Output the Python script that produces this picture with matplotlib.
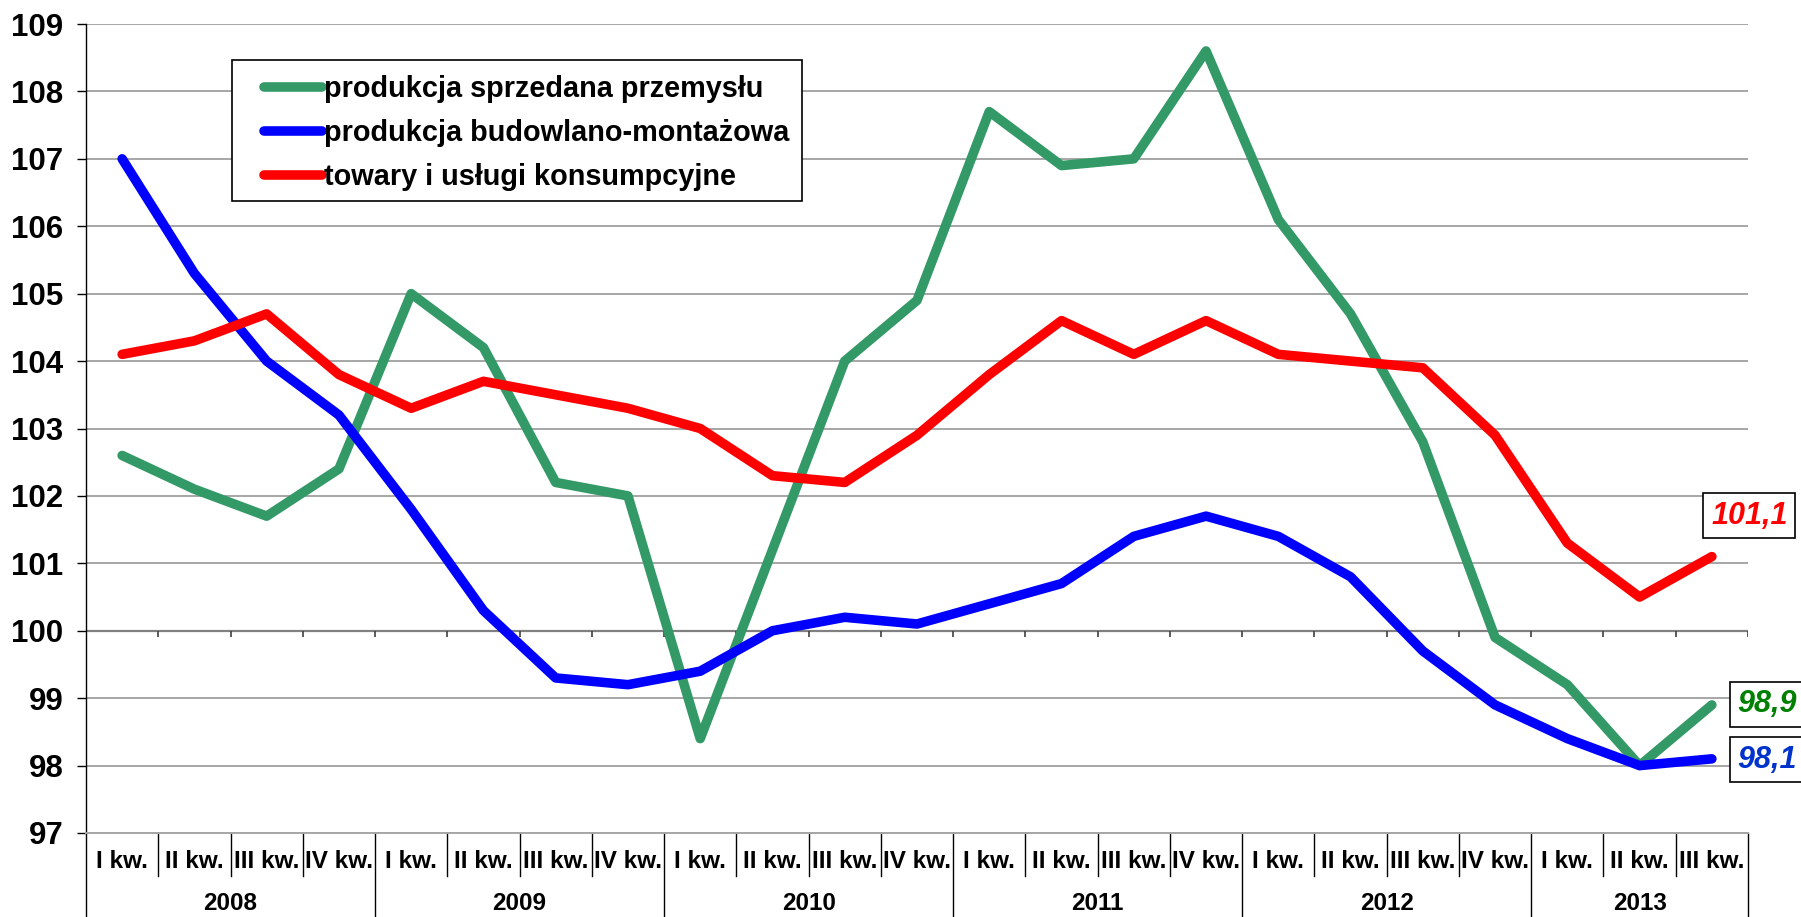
import matplotlib
matplotlib.use('Agg')
import matplotlib.pyplot as plt
import matplotlib.transforms as mtransforms
from matplotlib.patches import Rectangle
from matplotlib import font_manager
import numpy as np

# ---------------- data ----------------
years = ['2008', '2009', '2010', '2011', '2012', '2013']
quarters_in_year = [4, 4, 4, 4, 4, 3]
quarter_names = ['I kw.', 'II kw.', 'III kw.', 'IV kw.']

series_labels = ['produkcja sprzedana przemysłu',
                 'produkcja budowlano-montażowa',
                 'towary i usługi konsumpcyjne']

przemysl = [102.6, 102.1, 101.7, 102.4,
            105.0, 104.2, 102.2, 102.0,
            98.4, 101.2, 104.0, 104.9,
            107.7, 106.9, 107.0, 108.6,
            106.1, 104.7, 102.8, 99.9,
            99.2, 98.0, 98.9]
budowlana = [107.0, 105.3, 104.0, 103.2,
             101.8, 100.3, 99.3, 99.2,
             99.4, 100.0, 100.2, 100.1,
             100.4, 100.7, 101.4, 101.7,
             101.4, 100.8, 99.7, 98.9,
             98.4, 98.0, 98.1]
konsumpcja = [104.1, 104.3, 104.7, 103.8,
              103.3, 103.7, 103.5, 103.3,
              103.0, 102.3, 102.2, 102.9,
              103.8, 104.6, 104.1, 104.6,
              104.1, 104.0, 103.9, 102.9,
              101.3, 100.5, 101.1]

end_labels = ['98,9', '98,1', '101,1']

line_colors = ['#339966', '#0000FF', '#FF0000']
text_colors = ['#008000', '#0033CC', '#FF0000']

# ---------------- fonts ----------------
avail = {f.name for f in font_manager.fontManager.ttflist}
main_font = 'Liberation Sans' if 'Liberation Sans' in avail else 'DejaVu Sans'
plt.rcParams['font.family'] = [main_font, 'DejaVu Sans']

W, H = 1801, 917
fig = plt.figure(figsize=(W / 100, H / 100), dpi=100)
L, R, T, B = 86, 1748, 24, 833
ax = fig.add_axes([L / W, (H - B) / H, (R - L) / W, (B - T) / H])

def ax_x(px):
    return (px - L) / (R - L)

def ax_y(py):
    return (B - py) / (B - T)

n = len(przemysl)
x = np.arange(n) + 0.5
ax.set_xlim(0, n)
ax.set_ylim(97, 109)

# grid
ax.set_yticks(range(97, 110))
ax.yaxis.grid(True, color='#a6a6a6', lw=1.4, zorder=0)
ax.set_axisbelow(True)
ax.set_xticks([])
ax.tick_params(axis='y', direction='out', length=6.3, width=1, color='black', pad=10)
for lab in ax.get_yticklabels():
    lab.set_fontsize(22.5)
    lab.set_fontweight('bold')

for s in ['top', 'right']:
    ax.spines[s].set_visible(False)
ax.spines['bottom'].set_color('#a6a6a6')
ax.spines['bottom'].set_linewidth(1.4)
ax.spines['left'].set_color('black')
ax.spines['left'].set_linewidth(1.0)

# horizontal axis crossing at 100 with boundary ticks
ax.axhline(100, color='#808080', lw=1.6, zorder=1)
bounds = np.arange(0, n + 1)
tick_len = 6 / 67.4
ax.vlines(bounds[1:], 100 - tick_len, 100, color='#404040', lw=1.2, zorder=1)

# series
LW = 6.9
for vals, col, lab in zip([przemysl, budowlana, konsumpcja], line_colors, series_labels):
    ax.plot(x, vals, color=col, lw=LW, solid_capstyle='round',
            solid_joinstyle='round', label=lab, zorder=3)

# legend frame
ax.add_patch(Rectangle((ax_x(232), ax_y(201)), ax_x(802) - ax_x(232), ax_y(60) - ax_y(201),
                       transform=ax.transAxes, fc='white', ec='black', lw=1.2, zorder=4))
leg = ax.legend(loc='upper left', bbox_to_anchor=(ax_x(264), ax_y(75)),
                borderaxespad=0, frameon=False,
                prop={'family': main_font, 'weight': 'bold', 'size': 20.8},
                handlelength=2.0, handletextpad=0.07, labelspacing=0.55,
                borderpad=0)
leg.set_zorder(5)
for h in leg.get_lines():
    h.set_linewidth(LW)
    h.set_solid_capstyle('round')

# end labels
offsets = [(40, 0.5), (40, -0.5), (27, 29.5)]
for vals, lab, tcol, off in zip([przemysl, budowlana, konsumpcja], end_labels, text_colors, offsets):
    ax.annotate(lab, xy=(x[-1], vals[-1]), xytext=off, textcoords='offset points',
                ha='center', va='center', fontsize=22, fontweight='bold', style='italic',
                color=tcol, annotation_clip=False, zorder=6,
                bbox=dict(boxstyle='square,pad=0.25', fc='white', ec='black', lw=1.2))

# category table under axis
trans = mtransforms.blended_transform_factory(ax.transData, ax.transAxes)
yq = ax_y(861)
yy = ax_y(904)
yq_bot = ax_y(876)
yy_bot = ax_y(H + 5)

year_bounds = set(np.concatenate([[0], np.cumsum(quarters_in_year)]).tolist())
for xb in bounds:
    ybot = yy_bot if int(xb) in year_bounds else yq_bot
    ax.plot([xb, xb], [0, ybot], transform=trans, color='black', lw=1.0, clip_on=False)

i = 0
for yname, nq in zip(years, quarters_in_year):
    for q in range(nq):
        ax.text(i + 0.5, yq, quarter_names[q], transform=trans, ha='center', va='center',
                fontsize=17.5, fontweight='bold')
        i += 1
    start = i - nq
    ax.text((start + i) / 2, yy, yname, transform=trans, ha='center', va='center',
            fontsize=17.5, fontweight='bold')

fig.savefig('out.png', dpi=100)
